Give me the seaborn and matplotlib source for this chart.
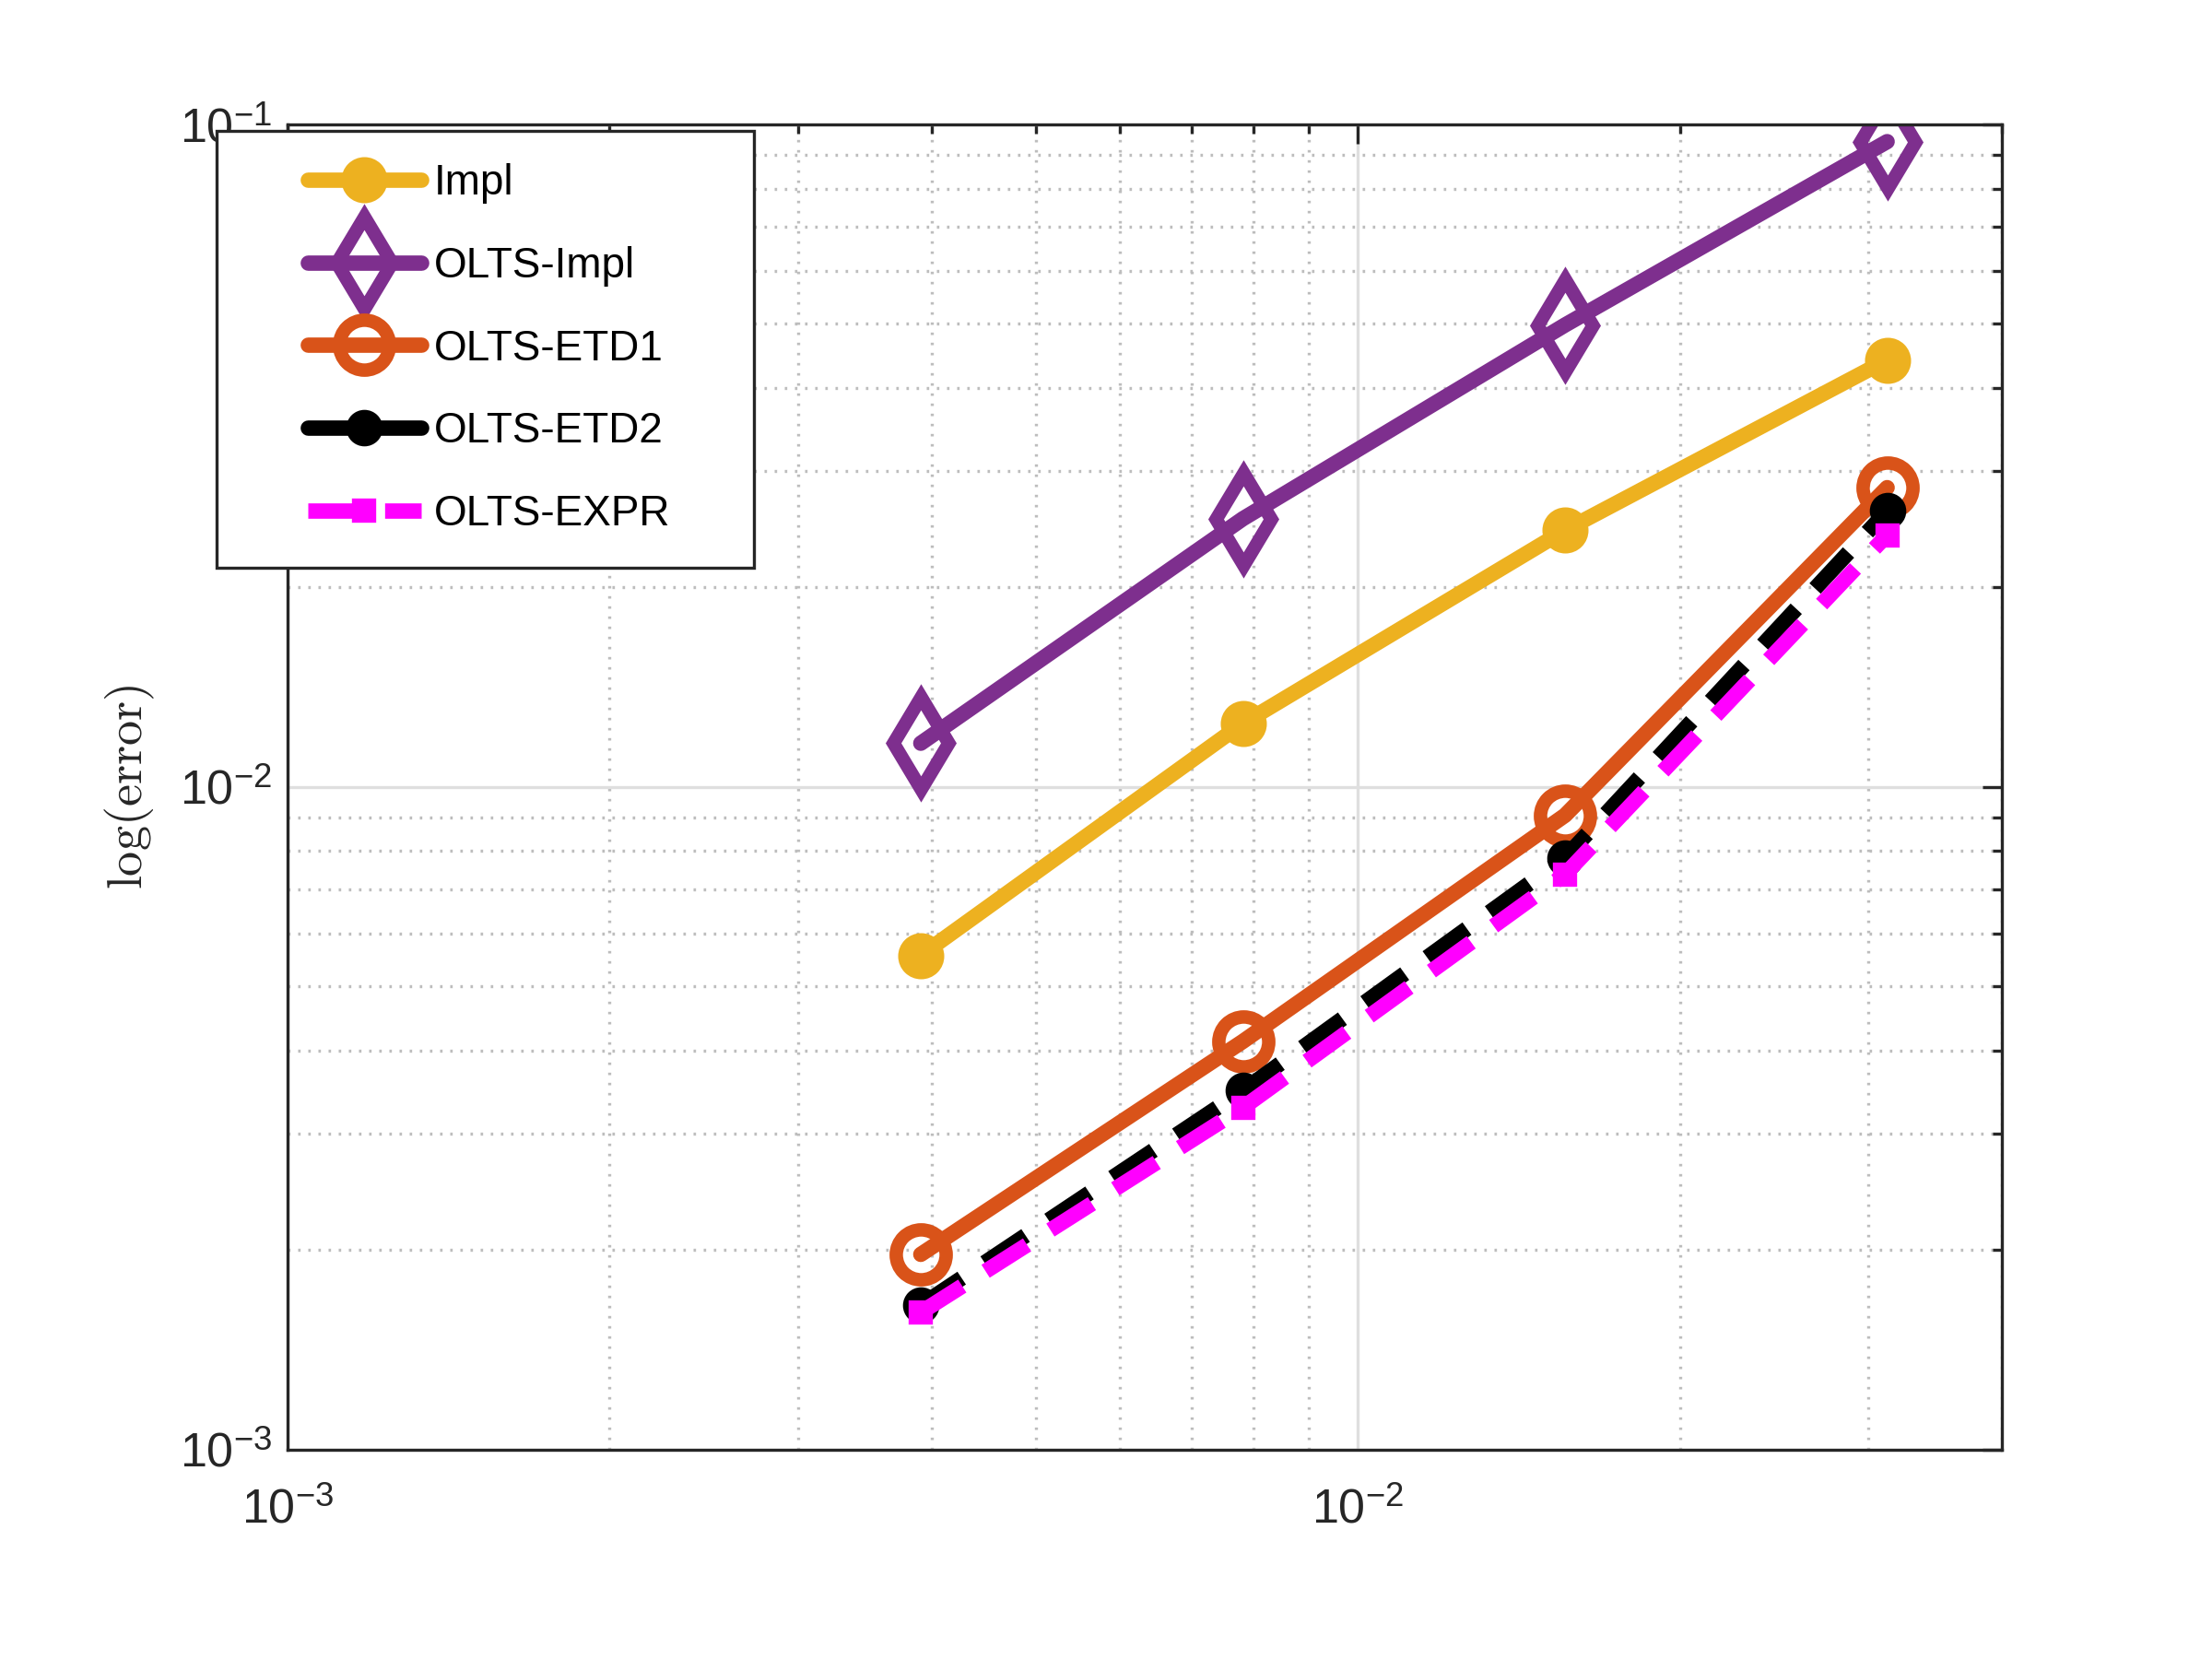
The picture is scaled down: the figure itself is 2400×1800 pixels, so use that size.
import numpy as np
import pandas as pd
import matplotlib
matplotlib.use("Agg")
import matplotlib.pyplot as plt
import seaborn as sns
from matplotlib.patches import Rectangle
from matplotlib.ticker import LogLocator, NullFormatter

# step sizes and errors for each scheme
h = [1/256, 1/128, 1/64, 1/32]
err_impl = [0.00557, 0.01247, 0.0244, 0.0441]
err_olts_impl = [0.01164, 0.0254, 0.0498, 0.0942]
err_olts_etd1 = [0.00197, 0.00413, 0.00906, 0.0283]
err_olts_etd2 = [0.00165, 0.00348, 0.00782, 0.0261]
err_olts_expr = [0.00161, 0.00328, 0.00738, 0.0240]

labels = ["Impl", "OLTS-Impl", "OLTS-ETD1", "OLTS-ETD2", "OLTS-EXPR"]
colors = ["#EDB120", "#7E2F8E", "#D95319", "#000000", "#FF00FF"]

sns.set_style("white")
plt.rcParams["font.family"] = ["Liberation Sans", "DejaVu Sans"]
plt.rcParams["mathtext.fontset"] = "cm"

fig = plt.figure(figsize=(8, 6), dpi=300)
ax = fig.add_axes([0.13, 0.1263, 0.775, 0.7987])

series = [err_impl, err_olts_impl, err_olts_etd1, err_olts_etd2, err_olts_expr]
dash = (0, (3.2, 1.8))
styles = [
    dict(marker="o", markersize=9, markerfacecolor=colors[0], markeredgewidth=3, linestyle="-"),
    dict(marker="d", markersize=17, markerfacecolor="none", markeredgewidth=3.5, linestyle="-"),
    dict(marker="o", markersize=13, markerfacecolor="none", markeredgewidth=3.5, linestyle="-"),
    dict(marker="o", markersize=7.5, markerfacecolor=colors[3], markeredgewidth=2, linestyle=dash),
    dict(marker="s", markersize=4.5, markerfacecolor=colors[4], markeredgewidth=2, linestyle=dash),
]

for lab, col, ys, st in zip(labels, colors, series, styles):
    df = pd.DataFrame({"h": h, "err": ys})
    sns.lineplot(data=df, x="h", y="err", ax=ax, color=col, linewidth=4,
                 markeredgecolor=col, label=lab, **st)

ax.set_xscale("log")
ax.set_yscale("log")
ax.set_xlim(1e-3, 0.04)
ax.set_ylim(1e-3, 1e-1)

ax.xaxis.set_minor_locator(LogLocator(base=10, subs=np.arange(2, 10)))
ax.yaxis.set_minor_locator(LogLocator(base=10, subs=np.arange(2, 10)))
ax.xaxis.set_minor_formatter(NullFormatter())
ax.yaxis.set_minor_formatter(NullFormatter())

ax.grid(True, which="major", color="#dfdfdf", linestyle="-", linewidth=0.8)
ax.grid(True, which="minor", color="#bdbdbd", linestyle=(0, (0.8, 2.5)), linewidth=0.8)
ax.set_axisbelow(True)

for s in ax.spines.values():
    s.set_color("#262626")
    s.set_linewidth(0.8)
ax.tick_params(which="both", direction="in", top=True, right=True, colors="#262626", labelsize=12.5)
ax.tick_params(which="major", length=5, width=0.8)
ax.tick_params(which="minor", length=2.5, width=0.8)
ax.tick_params(axis="x", which="major", pad=10)
ax.tick_params(axis="y", which="major", pad=4)

ax.set_xlabel("")
ax.set_ylabel(r"$\mathrm{log(error)}$", fontsize=13, color="#262626", labelpad=6)

# legend box drawn by hand so it can stick out past the axes like the original
box = Rectangle((0.098, 0.658), 0.243, 0.263, transform=fig.transFigure, facecolor="white",
                edgecolor="#262626", linewidth=0.8, zorder=9, clip_on=False)
ax.add_patch(box)

leg = ax.legend(loc="center left", bbox_to_anchor=(0.139, 0.7897), bbox_transform=fig.transFigure,
                borderaxespad=0, borderpad=0, frameon=False, fontsize=11,
                handlelength=2.7, handletextpad=0.3, labelspacing=1.0)
leg.set_zorder(10)
for t in leg.get_texts():
    t.set_color("black")
# the short legend sample of ETD2 shows up solid
leg.get_lines()[3].set_linestyle("-")

fig.savefig("out.png", dpi=300)
